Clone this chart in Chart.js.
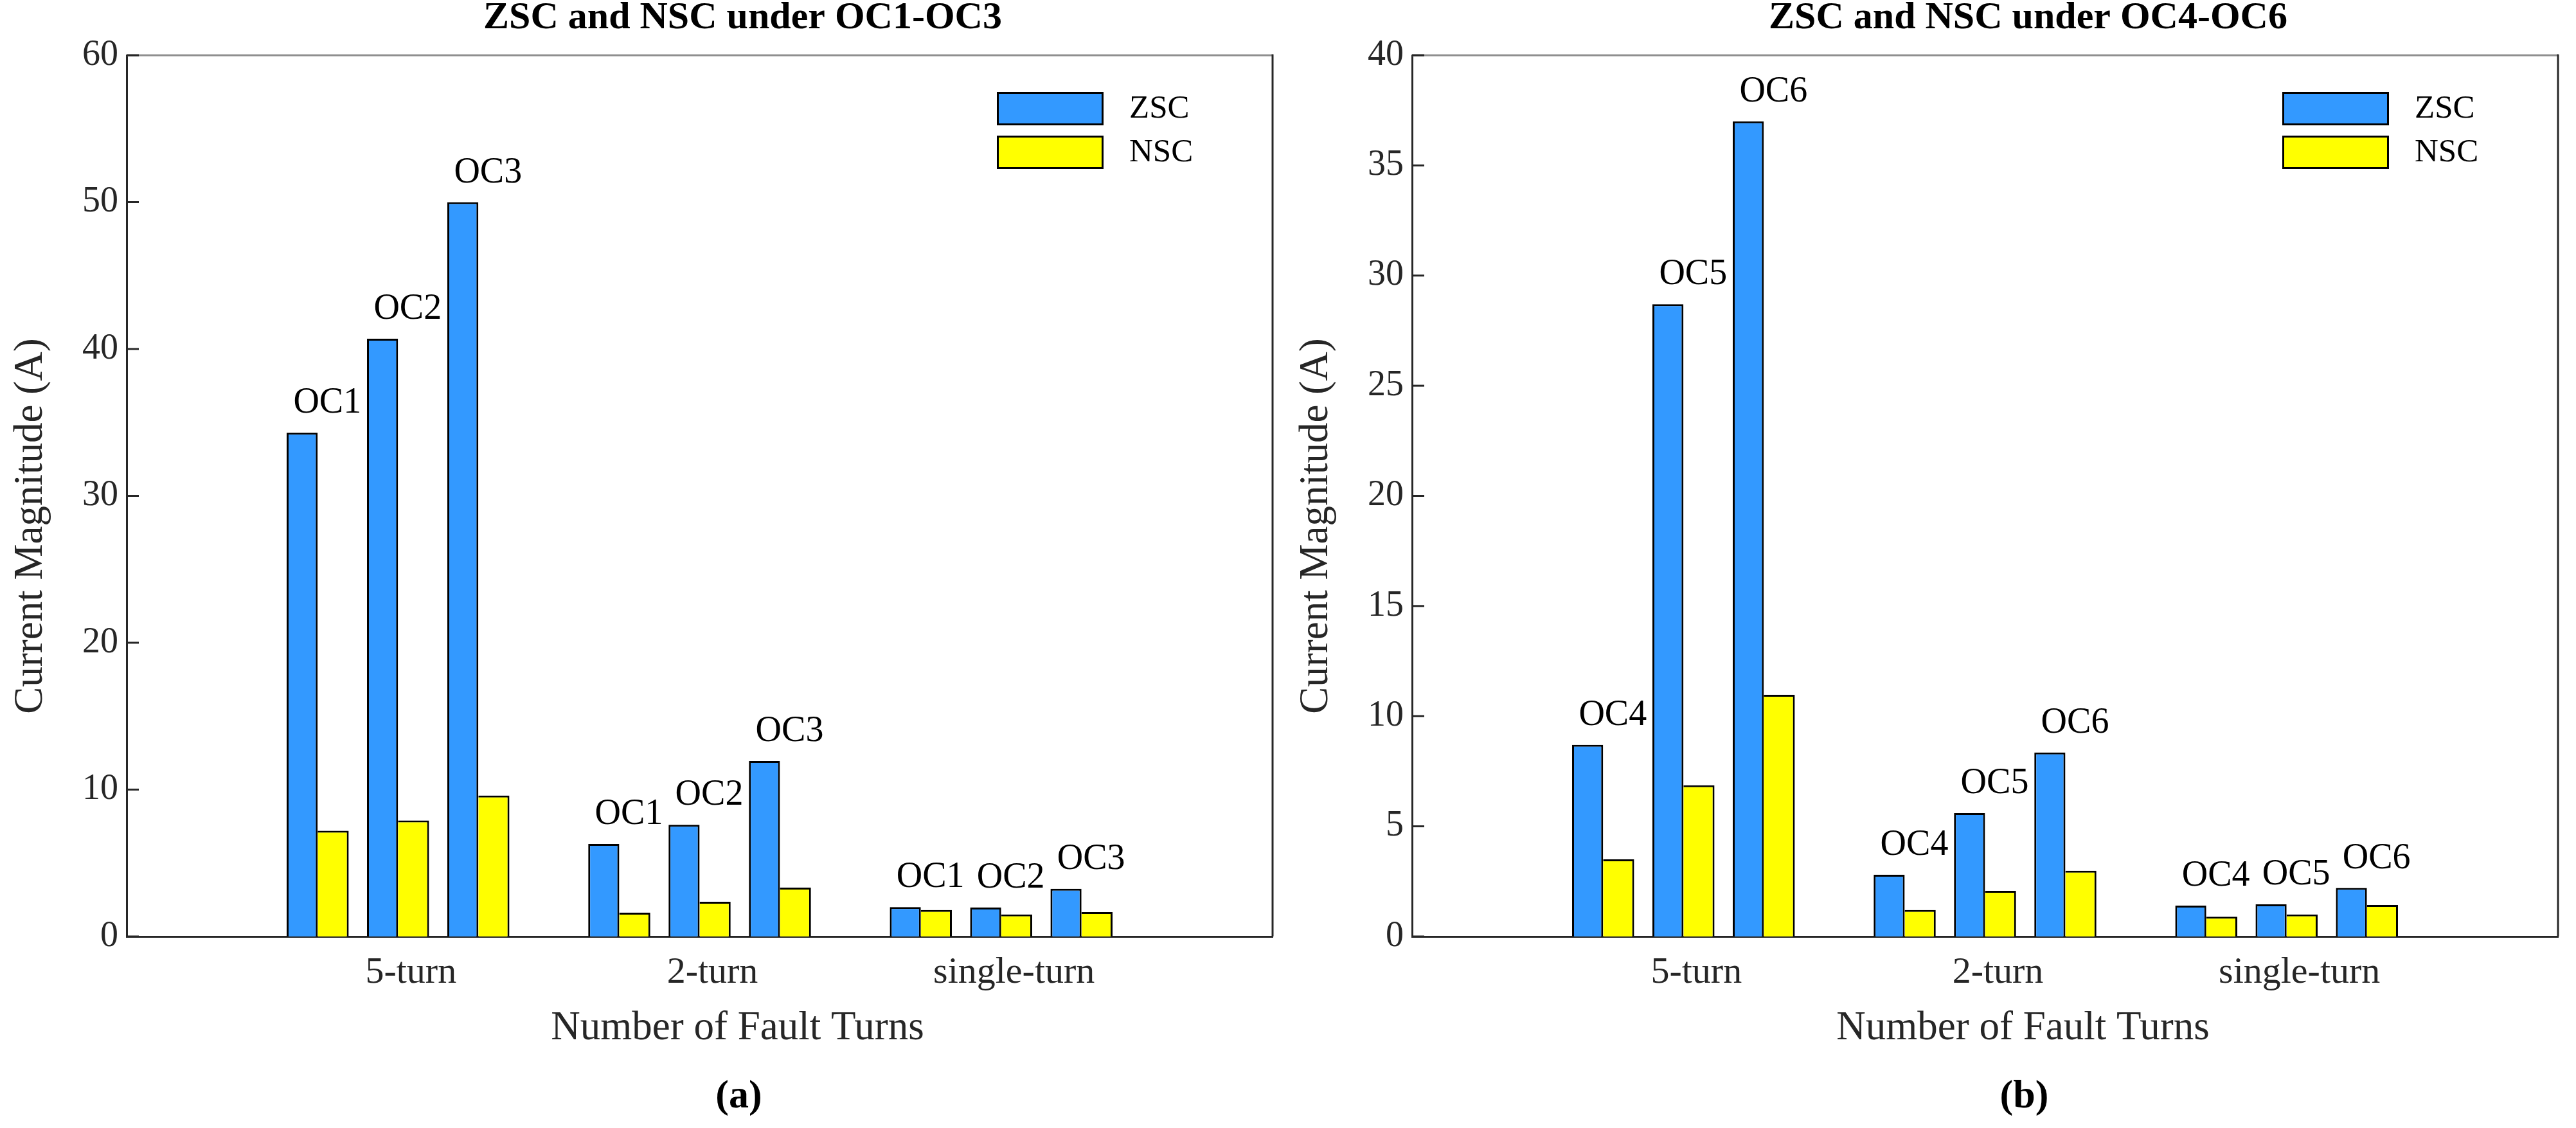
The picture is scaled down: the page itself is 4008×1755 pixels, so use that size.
<!DOCTYPE html>
<html>
<head>
<meta charset="utf-8">
<title>ZSC and NSC under OC1-OC6</title>
<script src="https://cdn.jsdelivr.net/npm/chart.js@4.4.1/dist/chart.umd.min.js"></script>
<style>
  html, body { margin: 0; padding: 0; background: #ffffff; overflow: hidden; }
  #wrap { position: relative; width: 4008px; height: 1755px; }
  canvas { position: absolute; top: 0; }
  #chart-a { left: 0; }
  #chart-b { left: 2000px; }
</style>
</head>
<body>
<div id="wrap">
  <canvas id="chart-a" width="2000" height="1755"></canvas>
  <canvas id="chart-b" width="2008" height="1755"></canvas>
</div>
<script>
'use strict';

// ***** DATA *****

let turnLabels = ['5-turn', '2-turn', 'single-turn'];
let seriesNames = ['ZSC', 'NSC'];

// (a) one row per operating condition, one value per fault-turn group
let ocNamesA = ['OC1', 'OC2', 'OC3'];
let zscA = [
  [34.3, 6.3, 2.0],
  [40.7, 7.6, 1.97],
  [50.0, 11.95, 3.25]
];
let nscA = [
  [7.2, 1.62, 1.8],
  [7.9, 2.36, 1.5],
  [9.6, 3.33, 1.66]
];
let yTicksA = [0, 10, 20, 30, 40, 50, 60];

// (b)
let ocNamesB = ['OC4', 'OC5', 'OC6'];
let zscB = [
  [8.7, 2.8, 1.4],
  [28.7, 5.6, 1.46],
  [37.0, 8.35, 2.2]
];
let nscB = [
  [3.5, 1.2, 0.9],
  [6.86, 2.07, 1.0],
  [10.97, 2.98, 1.43]
];
let yTicksB = [0, 5, 10, 15, 20, 25, 30, 35, 40];

// ***** STYLE *****

const FONT = '"Liberation Serif", "Times New Roman", serif';
const AXIS_COLOR = '#262626';
let seriesColors = ['#3399ff', '#ffff00'];

// bar layout inside one fault-turn group, in group widths
const PAIR_STEP = 0.2664;
const BAR_SIZE = 0.1029;

// per-dataset percentages so that ZSC/NSC of one OC touch and pairs keep a gap
function barSlot(k, n){
  let pair = Math.floor(k / 2);
  let side = k % 2;
  let mid = (pair - 1) * PAIR_STEP + (side - 0.5) * BAR_SIZE;
  let f = (k + 0.5) / n - 0.5;
  let cp = mid / f;
  return { categoryPercentage: cp, barPercentage: BAR_SIZE * n / cp };
}

// ***** PLUGIN: box, inner ticks, OC labels, legend, titles *****

let overlayPlugin = {
  id: 'overlay',
  afterDraw(chart, args, opts){
    let ctx = chart.ctx;
    let area = chart.chartArea;
    let midX = (area.left + area.right) / 2;
    let midY = (area.top + area.bottom) / 2;

    ctx.save();

    // box
    ctx.lineWidth = 3;
    ctx.strokeStyle = '#8f8f8f';
    ctx.beginPath();
    ctx.moveTo(area.left, area.top);
    ctx.lineTo(area.right, area.top);
    ctx.stroke();
    ctx.strokeStyle = AXIS_COLOR;
    ctx.beginPath();
    ctx.moveTo(area.right, area.top - 1.5);
    ctx.lineTo(area.right, area.bottom);
    ctx.stroke();

    // inward y ticks
    let yScale = chart.scales.y;
    yScale.ticks.forEach(function(t){
      let y = yScale.getPixelForValue(t.value);
      ctx.beginPath();
      ctx.moveTo(area.left, y);
      ctx.lineTo(area.left + 19, y);
      ctx.stroke();
    });

    // OC labels over each ZSC/NSC pair
    ctx.fillStyle = '#000000';
    ctx.font = '56px ' + FONT;
    ctx.textAlign = 'center';
    ctx.textBaseline = 'alphabetic';
    for(let j = 0; j < opts.ocNames.length; j++){
      let zMeta = chart.getDatasetMeta(j * 2);
      let nMeta = chart.getDatasetMeta(j * 2 + 1);
      for(let i = 0; i < zMeta.data.length; i++){
        let zBar = zMeta.data[i];
        let nBar = nMeta.data[i];
        ctx.fillText(opts.ocNames[j], (zBar.x + nBar.x) / 2 + 15, zBar.y - 31);
      }
    }

    // legend
    seriesNames.forEach(function(name, s){
      let bx = area.right - 429;
      let by = area.top + 57 + s * 68;
      ctx.fillStyle = seriesColors[s];
      ctx.fillRect(bx, by, 166, 52);
      ctx.strokeStyle = '#000000';
      ctx.lineWidth = 3;
      ctx.strokeRect(bx + 1.5, by + 1.5, 163, 49);
      ctx.fillStyle = '#000000';
      ctx.font = '51px ' + FONT;
      ctx.textAlign = 'left';
      ctx.textBaseline = 'middle';
      ctx.fillText(name, bx + 206, by + 27);
    });

    // title
    ctx.textBaseline = 'alphabetic';
    ctx.textAlign = 'center';
    ctx.fillStyle = '#000000';
    ctx.font = 'bold 60px ' + FONT;
    ctx.fillText(opts.title, midX + 67, 44);

    // axis titles
    ctx.fillStyle = AXIS_COLOR;
    ctx.font = '63px ' + FONT;
    ctx.fillText('Number of Fault Turns', midX + 59, area.bottom + 160);
    ctx.save();
    ctx.translate(65, midY + 47);
    ctx.rotate(-Math.PI / 2);
    ctx.fillText('Current Magnitude (A)', 0, 0);
    ctx.restore();

    // caption
    ctx.fillStyle = '#000000';
    ctx.font = 'bold 62px ' + FONT;
    ctx.fillText(opts.caption, midX + 61, area.bottom + 266);

    ctx.restore();
  }
};

// ***** CHART BUILDER *****

function makeChart(canvasId, ocNames, zsc, nsc, yTicks, title, caption, rightPad){
  let datasets = [];
  let n = ocNames.length * 2;

  for(let j = 0; j < ocNames.length; j++){
    [zsc, nsc].forEach(function(rows, s){
      let slot = barSlot(j * 2 + s, n);
      datasets.push({
        label: seriesNames[s] + ' ' + ocNames[j],
        data: turnLabels.map(function(t, i){
          return { x: i + 1, y: rows[j][i] };
        }),
        backgroundColor: seriesColors[s],
        borderColor: '#000000',
        borderWidth: s === 0 ? { top: 3, left: 3, right: 3, bottom: 0 } : { top: 3, left: 0, right: 3, bottom: 0 },
        categoryPercentage: slot.categoryPercentage,
        barPercentage: slot.barPercentage
      });
    });
  }

  return new Chart(document.getElementById(canvasId), {
    type: 'bar',
    data: { datasets: datasets },
    plugins: [overlayPlugin],
    options: {
      responsive: false,
      animation: false,
      devicePixelRatio: 1,
      events: [],
      layout: { padding: { left: 0, right: rightPad, top: 86, bottom: 0 } },
      scales: {
        x: {
          type: 'linear',
          min: 0.1,
          max: 3.9,
          offset: false,
          z: 1,
          afterBuildTicks: function(scale){
            scale.ticks = turnLabels.map(function(t, i){ return { value: i + 1 }; });
          },
          afterFit: function(scale){ scale.height = 298; },
          grid: { display: false, drawTicks: false, offset: false },
          border: { display: true, color: AXIS_COLOR, width: 3 },
          ticks: {
            color: AXIS_COLOR,
            font: { family: FONT, size: 58 },
            padding: 22,
            labelOffset: 20,
            maxRotation: 0,
            autoSkip: false,
            callback: function(value, index){ return turnLabels[index]; }
          }
        },
        y: {
          min: 0,
          max: yTicks[yTicks.length - 1],
          z: 1,
          afterBuildTicks: function(scale){
            scale.ticks = yTicks.map(function(v){ return { value: v }; });
          },
          afterFit: function(scale){ scale.width = 197; },
          grid: { display: false, drawTicks: false },
          border: { display: true, color: AXIS_COLOR, width: 3 },
          ticks: { color: AXIS_COLOR, font: { family: FONT, size: 56 }, padding: 13 }
        }
      },
      plugins: {
        legend: { display: false },
        tooltip: { enabled: false },
        overlay: { ocNames: ocNames, title: title, caption: caption }
      }
    }
  });
}

makeChart('chart-a', ocNamesA, zscA, nscA, yTicksA, 'ZSC and NSC under OC1-OC3', '(a)', 20);
makeChart('chart-b', ocNamesB, zscB, nscB, yTicksB, 'ZSC and NSC under OC4-OC6', '(b)', 28);
</script>
</body>
</html>
